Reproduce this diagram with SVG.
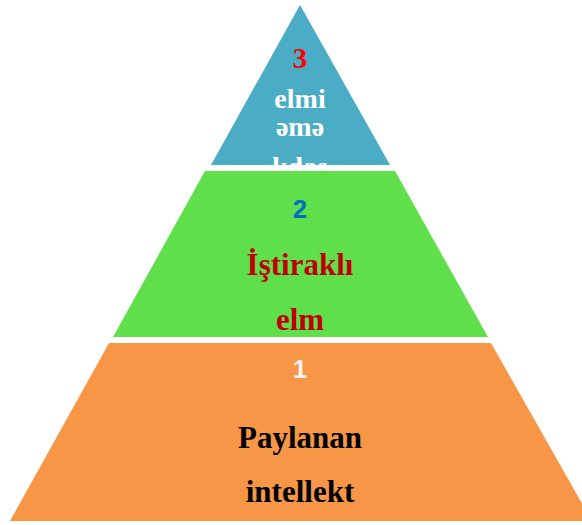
<svg xmlns="http://www.w3.org/2000/svg" width="582" height="525" viewBox="0 0 582 525">
<style>
.serif{font-family:"Liberation Serif","Times New Roman",serif;font-weight:bold;text-anchor:middle}
.sans{font-family:"Liberation Sans",Arial,sans-serif;font-weight:bold;text-anchor:middle}
</style>
<defs>
<clipPath id="topclip"><polygon points="300,5 211,165 390,165"/></clipPath>
</defs>
<rect width="582" height="525" fill="#ffffff"/>
<g id="level3">
<polygon points="300,5 211,165 390,165" fill="#4BACC6"/>
<g clip-path="url(#topclip)">
<text class="serif" x="300" y="68" font-size="29" fill="#FF0000">3</text>
<text class="serif" x="300" y="108" font-size="28" fill="#FFFFFF">elmi</text>
<text class="serif" x="300" y="136" font-size="28" fill="#FFFFFF">əmə</text>
<text class="serif" x="300" y="176" font-size="28" fill="#FFFFFF">kdaş</text>
</g>
</g>
<g id="level2">
<polygon points="205,171 395,171 488,337 113,337" fill="#5FE04A"/>
<text class="sans" x="300" y="218" font-size="26" fill="#0070C0">2</text>
<text class="serif" x="300" y="275" font-size="31" fill="#C00000">İştiraklı</text>
<text class="serif" x="300" y="330" font-size="31" fill="#C00000">elm</text>
</g>
<g id="level1">
<polygon points="109,343 491,343 592,521 10,521" fill="#F79646"/>
<text class="sans" x="300" y="378" font-size="26" fill="#F2F2F2">1</text>
<text class="serif" x="300" y="448" font-size="31" fill="#000000">Paylanan</text>
<text class="serif" x="300" y="502" font-size="31" fill="#000000">intellekt</text>
</g>
<g id="connectors"/>
</svg>
